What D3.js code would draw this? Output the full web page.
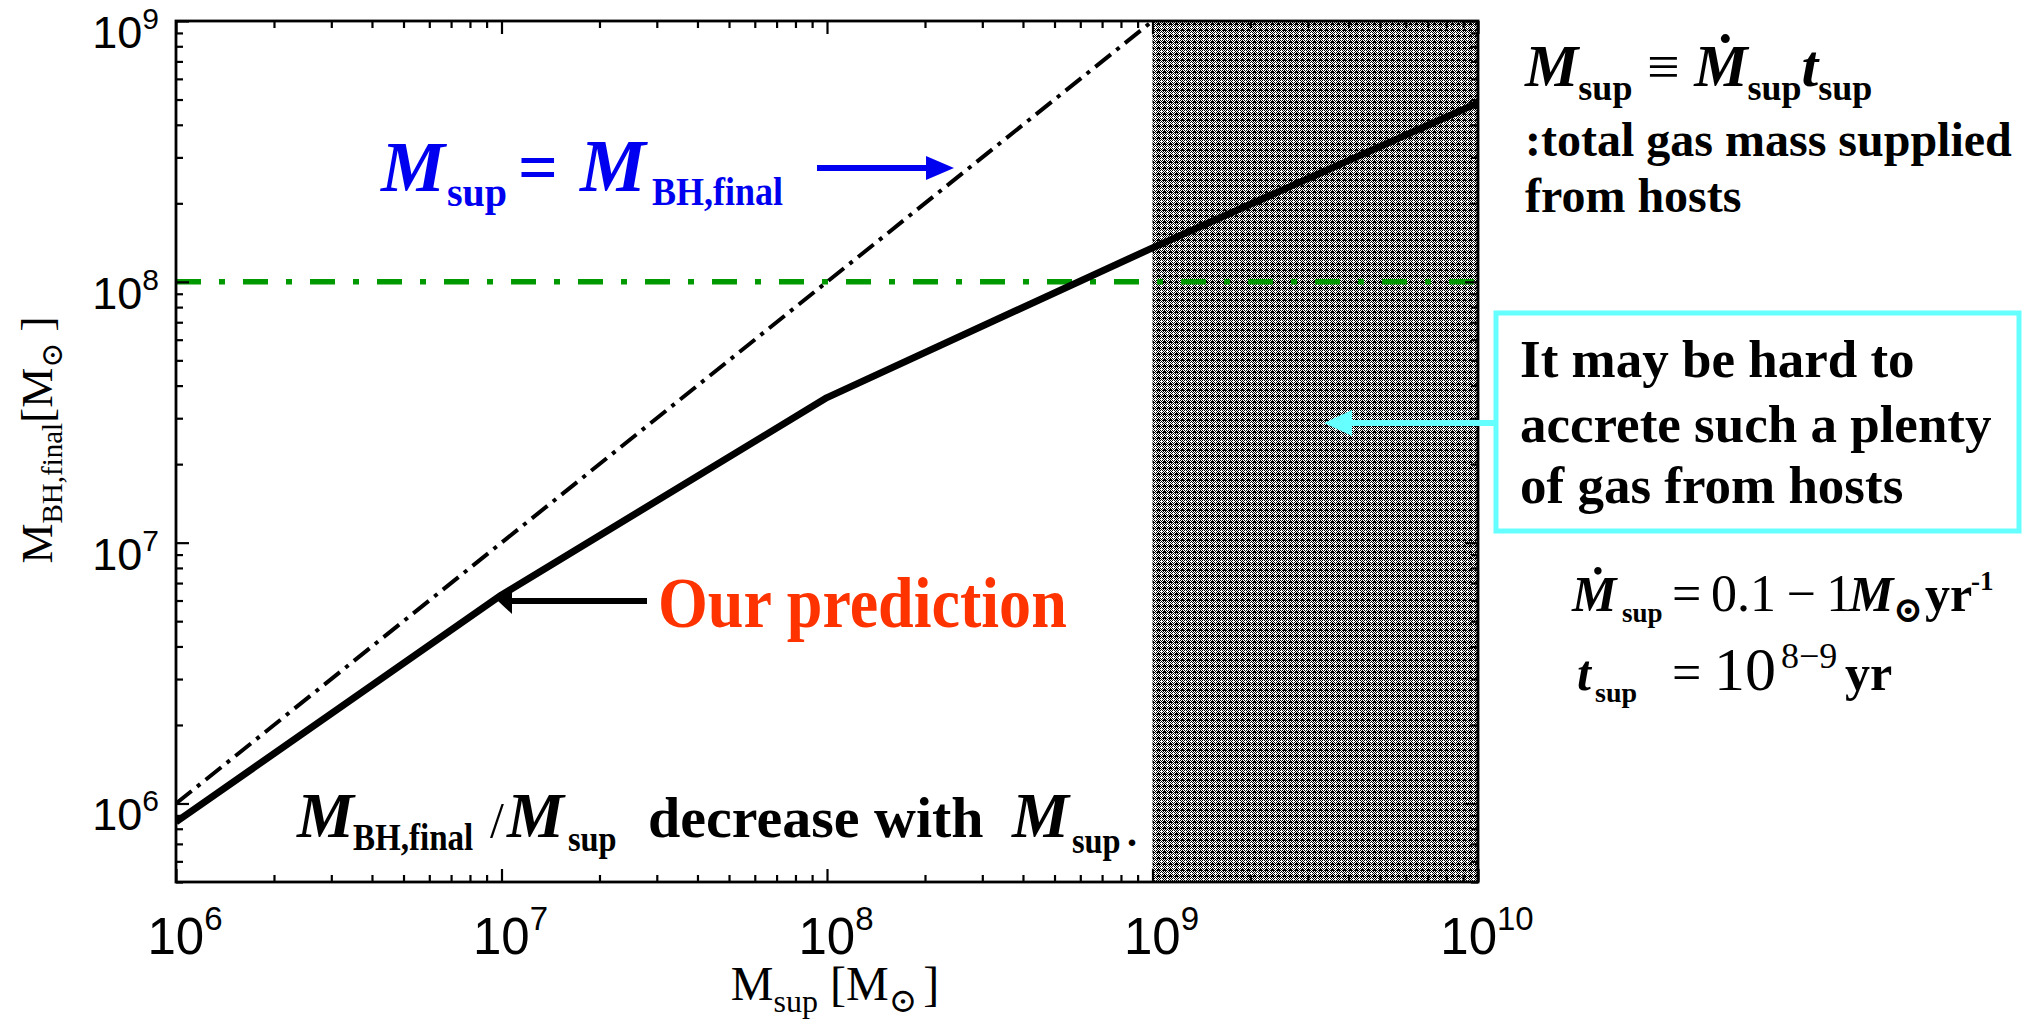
<!DOCTYPE html>
<html>
<head>
<meta charset="utf-8">
<script src="https://cdn.jsdelivr.net/npm/d3@7/dist/d3.min.js"></script>
<style>
  html, body { margin: 0; padding: 0; background: #fff; }
  text { white-space: pre; }
</style>
</head>
<body>
<svg id="chart" width="2040" height="1021"></svg>
<script>
// Supplied gas mass vs. final black-hole mass (solar masses)
const supplyMass  = [1e6, 1e7, 1e8, 1e9, 1e10];
const bhFinalMass = [8.5e5, 6.3e6, 3.6e7, 1.35e8, 4.85e8];
// M_sup = M_BH,final reference line
const equalityMass = [1e6, 1e7, 1e8, 1e9];
// Horizontal reference level
const thresholdMass = [1e8];
// Range of supplied mass that is hard to reach
const hardRange = [1e9, 1e10];
// Axis ticks
const xTickValues = [1e6, 1e7, 1e8, 1e9, 1e10];
const xTickExp    = ["6", "7", "8", "9", "10"];
const yTickValues = [1e6, 1e7, 1e8, 1e9];
const yTickExp    = ["6", "7", "8", "9"];

const SERIF = "'Liberation Serif', 'Times New Roman', serif";
const SANS  = "'Liberation Sans', Arial, Helvetica, sans-serif";
const SYM   = "'DejaVu Serif', 'DejaVu Sans', serif";

const svg = d3.select("#chart");
svg.append("rect").attr("width", 2040).attr("height", 1021).attr("fill", "#fff");

const L = 176, R = 1478, T = 21, B = 882;
const x = d3.scaleLog().domain([1e6, 1e10]).range([L, R]);
const y = d3.scaleLog().domain([5e5, 1e9]).range([B, T]);

const defs = svg.append("defs");
defs.append("clipPath").attr("id", "plotClip")
  .append("rect").attr("x", L).attr("y", T).attr("width", R - L).attr("height", B - T);

// fine dither used for the shaded band
const pat = defs.append("pattern").attr("id", "dither")
  .attr("patternUnits", "userSpaceOnUse").attr("width", 6).attr("height", 6);
pat.append("rect").attr("width", 6).attr("height", 6).attr("fill", "#fff");
for (let i = 0; i < 6; i++) {
  for (let j = 0; j < 6; j++) {
    let black = (i + j) % 2 === 0;
    if (i === 3 && j === 3) black = false;
    if ((i === 1 && j === 0) || (i === 5 && j === 0) || (i === 0 && j === 5)) black = true;
    if (black) pat.append("rect").attr("x", i).attr("y", j).attr("width", 1).attr("height", 1).attr("fill", "#000");
  }
}

const plot = svg.append("g").attr("clip-path", "url(#plotClip)");

// shaded band
plot.append("rect")
  .attr("x", x(hardRange[0])).attr("y", T)
  .attr("width", x(hardRange[1]) - x(hardRange[0])).attr("height", B - T)
  .attr("fill", "url(#dither)");

// horizontal green dash-dot level
plot.selectAll("line.level").data(thresholdMass).enter().append("line")
  .attr("class", "level")
  .attr("x1", L).attr("x2", R)
  .attr("y1", d => y(d)).attr("y2", d => y(d))
  .attr("stroke", "#009a00").attr("stroke-width", 5.5)
  .attr("stroke-dasharray", "25,18,6,18");

// one-to-one dash-dot line
const line = d3.line().x(d => x(d[0])).y(d => y(d[1]));
plot.append("path")
  .datum(equalityMass.map(m => [m, m]))
  .attr("d", line).attr("fill", "none")
  .attr("stroke", "#000").attr("stroke-width", 4)
  .attr("stroke-dasharray", "20,7,4,7");

// prediction curve
plot.append("path")
  .datum(supplyMass.map((m, i) => [m, bhFinalMass[i]]))
  .attr("d", line).attr("fill", "none")
  .attr("stroke", "#000").attr("stroke-width", 7)
  .attr("stroke-linejoin", "round");

// axes: inward ticks on all four sides
function minor(scale) {
  return scale.ticks().filter(v => Math.abs(Math.log10(v) - Math.round(Math.log10(v))) > 1e-6);
}
function axisSet(gen, scale, transform, major) {
  const gM = svg.append("g").attr("transform", transform)
    .call(gen(scale).tickValues(major).tickSize(-13).tickFormat(""));
  const gm = svg.append("g").attr("transform", transform)
    .call(gen(scale).tickValues(minor(scale)).tickSize(-7).tickFormat(""));
  [gM, gm].forEach(g => {
    g.select(".domain").remove();
    g.selectAll(".tick line").attr("stroke", "#000").attr("stroke-width", 2.2);
  });
}
axisSet(d3.axisBottom, x, `translate(0,${B})`, xTickValues);
axisSet(d3.axisTop, x, `translate(0,${T})`, xTickValues);
axisSet(d3.axisLeft, y, `translate(${L},0)`, yTickValues);
axisSet(d3.axisRight, y, `translate(${R},0)`, yTickValues);

svg.append("rect").attr("x", L).attr("y", T).attr("width", R - L).attr("height", B - T)
  .attr("fill", "none").attr("stroke", "#000").attr("stroke-width", 2.8);

// tick labels as 10^n
xTickValues.forEach((v, i) => {
  const t = svg.append("text").attr("x", x(v) + 9).attr("y", 954)
    .attr("text-anchor", "middle").attr("font-family", SANS).attr("fill", "#000");
  t.append("tspan").attr("font-size", 51).text("10");
  t.append("tspan").attr("font-size", 33).attr("dy", -24).text(xTickExp[i]);
});
yTickValues.forEach((v, i) => {
  const t = svg.append("text").attr("x", 159).attr("y", y(v) + 27)
    .attr("text-anchor", "end").attr("font-family", SANS).attr("fill", "#000");
  t.append("tspan").attr("font-size", 45).text("10");
  t.append("tspan").attr("font-size", 30).attr("dy", -19).text(yTickExp[i]);
});

// single text piece at an explicit spot (optionally narrowed by sx)
function piece(px, py, txt, fs, o = {}) {
  return svg.append("text")
    .attr("transform", `translate(${px},${py}) scale(${o.sx || 1},1)`)
    .text(txt)
    .attr("font-family", o.ff || SERIF).attr("font-size", fs)
    .attr("font-weight", o.fw || "normal")
    .attr("font-style", o.it ? "italic" : "normal")
    .attr("fill", o.fill || "#000");
}

// rich text helper: parts = [{t, fs, fw, it, sh, ff}]
function rich(px, py, parts, o = {}) {
  const g = svg.append("g")
    .attr("transform", `translate(${px},${py})` + (o.rotate ? ` rotate(${o.rotate})` : "") + ` scale(${o.sx || 1},1)`);
  const t = g.append("text").attr("text-anchor", o.anchor || "start").attr("fill", o.fill || "#000");
  let cur = 0;
  parts.forEach(p => {
    const s = t.append("tspan").text(p.t)
      .attr("font-family", p.ff || SERIF)
      .attr("font-size", p.fs)
      .attr("font-weight", p.fw || "normal")
      .attr("font-style", p.it ? "italic" : "normal");
    const sh = p.sh || 0;
    if (sh !== cur) { s.attr("dy", sh - cur); cur = sh; }
    if (p.dx) s.attr("dx", p.dx);
  });
  return t;
}

function arrow(x1, yy, x2, color, w, hl, hw) {
  const dir = Math.sign(x2 - x1);
  svg.append("line").attr("x1", x1).attr("x2", x2 - dir * hl * 0.8)
    .attr("y1", yy).attr("y2", yy).attr("stroke", color).attr("stroke-width", w);
  svg.append("path")
    .attr("d", `M${x2},${yy} L${x2 - dir * hl},${yy - hw / 2} L${x2 - dir * hl},${yy + hw / 2} Z`)
    .attr("fill", color);
}

// axis titles
rich(835, 1000, [
  { t: "M", fs: 48 },
  { t: "sup", fs: 32, sh: 12 },
  { t: " [M", fs: 48 },
  { t: "\u2299", fs: 34, sh: 12, ff: SYM },
  { t: "]", fs: 48, dx: 6 }
], { anchor: "middle" });

rich(52, 440, [
  { t: "M", fs: 45 },
  { t: "BH,final", fs: 29, sh: 10 },
  { t: "[M", fs: 45 },
  { t: "\u2299", fs: 30, sh: 10, ff: SYM },
  { t: " ]", fs: 45 }
], { anchor: "middle", rotate: -90 });

// blue annotation for the 1:1 line
const BLUE = "#0000f0";
const bb = { fw: "bold", fill: BLUE };
piece(381, 191, "M", 72, { fw: "bold", it: true, fill: BLUE });
piece(447, 206, "sup", 40, bb);
piece(518, 191, "=", 70, bb);
piece(580, 191, "M", 74, { fw: "bold", it: true, fill: BLUE });
piece(652, 205, "BH,final", 40, { fw: "bold", fill: BLUE, sx: 0.9 });
arrow(817, 168, 954, BLUE, 6, 28, 24);

// prediction label
const RED = "#ff3300";
rich(658, 627, [{ t: "Our prediction", fs: 72, fw: "bold" }], { fill: RED, sx: 0.89 });
arrow(647, 601, 498, "#000", 6, 14, 26);

// bottom statement
piece(297, 837, "M", 64, { fw: "bold", it: true });
piece(353, 850, "BH,final", 38, { fw: "bold", sx: 0.87 });
piece(490, 837, "/", 50);
piece(507, 837, "M", 64, { fw: "bold", it: true });
piece(568, 851, "sup", 36, { fw: "bold", sx: 0.9 });
piece(648, 837, "decrease with", 58, { fw: "bold" });
piece(1012, 837, "M", 64, { fw: "bold", it: true });
piece(1072, 853, "sup", 36, { fw: "bold", sx: 0.9 });
piece(1127, 846, ".", 40, { fw: "bold" });

// definition block (top right)
rich(1525, 86, [
  { t: "M", fs: 60, fw: "bold", it: true },
  { t: "sup", fs: 36, fw: "bold", sh: 14 },
  { t: " \u2261 ", fs: 58 },
  { t: "M\u0307", fs: 60, fw: "bold", it: true },
  { t: "sup", fs: 36, fw: "bold", sh: 14 },
  { t: "t", fs: 60, fw: "bold", it: true },
  { t: "sup", fs: 36, fw: "bold", sh: 14 }
]);
rich(1525, 156, [{ t: ":total gas mass supplied", fs: 48, fw: "bold" }]);
rich(1525, 212, [{ t: "from hosts", fs: 48, fw: "bold" }]);

// boxed note with cyan pointer
const CYAN = "#66ffff";
svg.append("rect").attr("x", 1496).attr("y", 313).attr("width", 523).attr("height", 218)
  .attr("fill", "#fff").attr("stroke", CYAN).attr("stroke-width", 5);
rich(1520, 377, [{ t: "It may be hard to", fs: 53, fw: "bold" }]);
rich(1520, 442, [{ t: "accrete such a plenty", fs: 53, fw: "bold" }]);
rich(1520, 503, [{ t: "of gas from hosts", fs: 53, fw: "bold" }]);
arrow(1494, 423, 1324, CYAN, 6, 28, 26);

// supply rate and duration
piece(1572, 611, "M\u0307", 50, { fw: "bold", it: true });
piece(1622, 622, "sup", 27, { fw: "bold" });
piece(1672, 611, "=", 52);
piece(1711, 611, "0.1\u2009\u2212\u20091", 52);
piece(1849, 611, "M", 50, { fw: "bold", it: true });
piece(1893, 622, "\u2299", 36, { ff: SYM, fw: "bold" });
piece(1925, 611, "yr", 50, { fw: "bold" });
piece(1971, 590, "-1", 27, { fw: "bold" });

piece(1577, 690, "t", 50, { fw: "bold", it: true });
piece(1595, 702, "sup", 28, { fw: "bold" });
piece(1672, 690, "=", 52);
piece(1714, 690, "10", 62);
piece(1781, 668, "8\u22129", 36);
piece(1845, 690, "yr", 50, { fw: "bold" });
</script>
</body>
</html>
